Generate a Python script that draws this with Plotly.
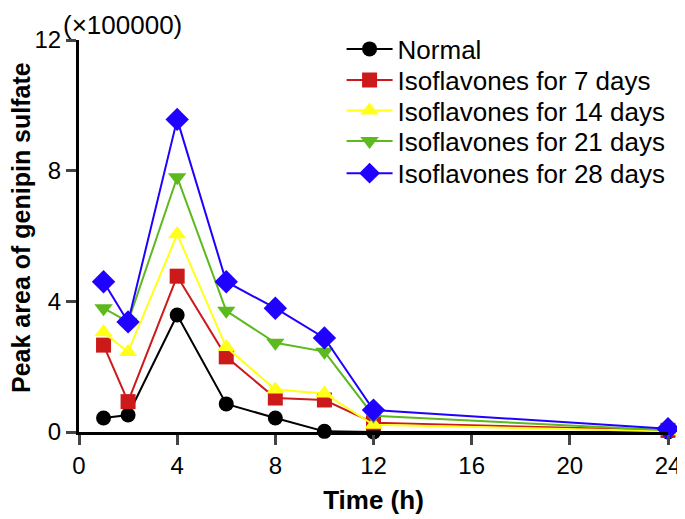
import plotly.graph_objects as go

time_h = [1, 2, 4, 6, 8, 10, 12, 24]
normal = [0.43, 0.52, 3.58, 0.86, 0.43, 0.02, 0.0, 0.0]
iso7 = [2.66, 0.93, 4.77, 2.30, 1.04, 0.98, 0.28, 0.05]
iso14 = [3.05, 2.45, 6.05, 2.60, 1.30, 1.18, 0.22, 0.02]
iso21 = [3.79, 3.37, 7.80, 3.71, 2.73, 2.46, 0.50, 0.05]
iso28 = [4.60, 3.37, 9.57, 4.60, 3.79, 2.88, 0.67, 0.10]

series_names = ["Normal", "Isoflavones for 7 days", "Isoflavones for 14 days",
                "Isoflavones for 21 days", "Isoflavones for 28 days"]
series_vals = [normal, iso7, iso14, iso21, iso28]
colors = ["#000000", "#CC1A1A", "#FFFF1A", "#5CB91E", "#2000FF"]
symbols = ["circle", "square", "triangle-up", "triangle-down", "diamond"]
sizes = [15, 15, 16, 16, 18]

x_ticks = [0, 4, 8, 12, 16, 20, 24]
y_ticks = [0, 4, 8, 12]

# legend row centres (paper coords)
legend_rows = [0.977, 0.898, 0.820, 0.742, 0.660]

fig = go.Figure()
legend_layout = {}
for i, (name, vals, c, s, sz) in enumerate(zip(series_names, series_vals, colors, symbols, sizes)):
    lg = "legend" if i == 0 else f"legend{i+1}"
    fig.add_trace(go.Scatter(
        x=time_h, y=vals, name=name, mode="lines+markers",
        line=dict(color=c, width=2),
        marker=dict(symbol=s, size=sz, color=c, line=dict(width=0)),
        cliponaxis=False, legend=lg,
    ))
    legend_layout[lg] = dict(x=0.4458, y=legend_rows[i], xanchor="left", yanchor="middle",
                             bgcolor="rgba(0,0,0,0)", font=dict(size=26),
                             itemwidth=46, borderwidth=0)

font = "Liberation Sans, Arial, sans-serif"
fig.update_layout(
    width=677, height=511,
    margin=dict(l=71, r=17, t=32, b=87),
    plot_bgcolor="white", paper_bgcolor="white",
    font=dict(family=font, size=24, color="black"),
    showlegend=True,
    xaxis=dict(range=[0, 24], tickvals=x_ticks, ticks="outside", ticklen=10,
               tickwidth=3, linewidth=3, linecolor="black", showgrid=False,
               zeroline=False, showline=True, automargin=False,
               tickfont=dict(size=24),
               title=dict(text="<b>Time (h)</b>", font=dict(size=26), standoff=14)),
    yaxis=dict(range=[0, 12], tickvals=y_ticks, ticks="outside", ticklen=10,
               tickwidth=3, linewidth=3, linecolor="black", showgrid=False,
               zeroline=False, showline=True, automargin=False,
               tickfont=dict(size=24)),
    annotations=[
        dict(text="(×100000)", xref="paper", yref="paper", x=0.0747, y=1.0816,
             xanchor="center", yanchor="top", showarrow=False, font=dict(size=26)),
        dict(text="<b>Peak area of genipin sulfate</b>", xref="paper", yref="paper",
             x=-0.0985, y=0.523, xanchor="center", yanchor="middle", textangle=-90,
             showarrow=False, font=dict(size=25)),
    ],
    **legend_layout,
)

fig.write_html("out.html")
